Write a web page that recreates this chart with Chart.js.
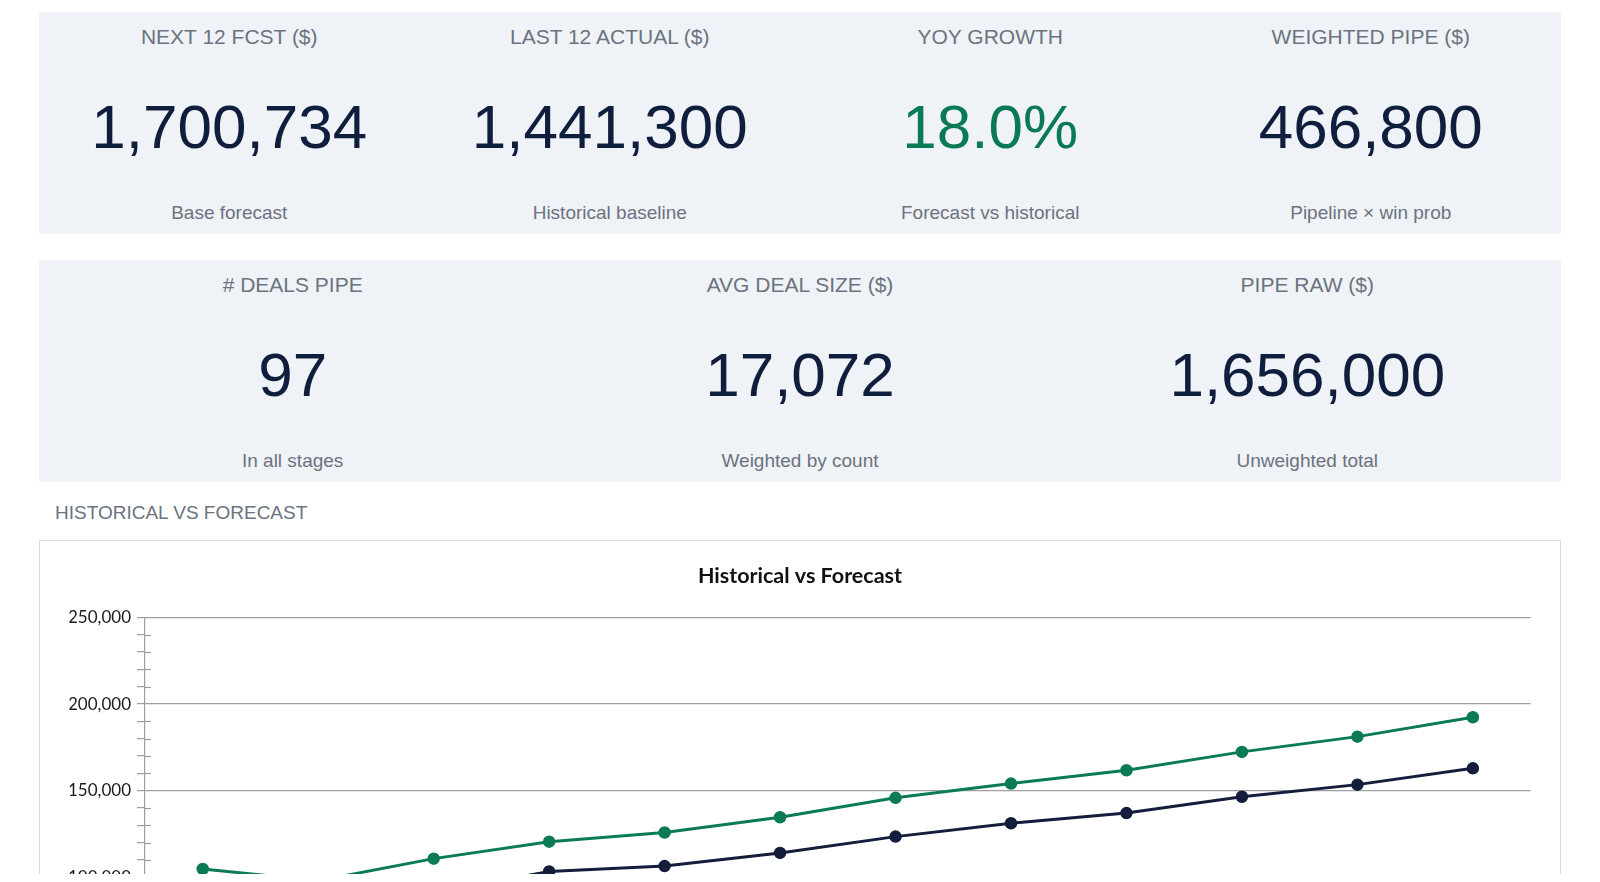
<!DOCTYPE html>
<html>
<head>
<meta charset="utf-8">
<title>Historical vs Forecast</title>
<script src="https://cdn.jsdelivr.net/npm/chart.js@4.4.1/dist/chart.umd.min.js"></script>
<style>
  html, body { margin: 0; background: #fff; }
  body { font-family: "Liberation Sans", Arial, sans-serif; }
  #page { position: relative; width: 1600px; height: 874px; overflow: hidden; }
  .row { position: absolute; left: 39px; width: 1522px; height: 222px; background: #eff2f6; display: flex; }
  .card { flex: 1; position: relative; text-align: center; }
  .lbl, .val, .sub { position: absolute; left: 0; right: 0; white-space: nowrap; }
  .lbl { top: 14.2px; font-size: 21px; line-height: 21px; color: #6b7280; }
  .val { top: 84.3px; font-size: 62px; line-height: 62px; color: #0f1e3c; }
  .val.good { color: #0a7a55; }
  .sub { top: 190.5px; font-size: 19px; line-height: 19px; color: #6b7280; }
  .section { position: absolute; left: 55px; top: 503px; font-size: 19px; line-height: 19px; color: #6b7280; }
  .panel { position: absolute; left: 39px; top: 540px; width: 1520px; height: 560px; border: 1px solid #dadada; background: #fff; }
  .chart-box { position: absolute; left: 0; top: 0; width: 1520px; height: 507px; }
</style>
</head>
<body>
<div id="page">
  <div class="row" style="top:12px">
    <div class="card"><div class="lbl">NEXT 12 FCST ($)</div><div class="val">1,700,734</div><div class="sub">Base forecast</div></div>
    <div class="card"><div class="lbl">LAST 12 ACTUAL ($)</div><div class="val">1,441,300</div><div class="sub">Historical baseline</div></div>
    <div class="card"><div class="lbl">YOY GROWTH</div><div class="val good">18.0%</div><div class="sub">Forecast vs historical</div></div>
    <div class="card"><div class="lbl">WEIGHTED PIPE ($)</div><div class="val">466,800</div><div class="sub">Pipeline × win prob</div></div>
  </div>
  <div class="row" style="top:260px">
    <div class="card"><div class="lbl"># DEALS PIPE</div><div class="val">97</div><div class="sub">In all stages</div></div>
    <div class="card"><div class="lbl">AVG DEAL SIZE ($)</div><div class="val">17,072</div><div class="sub">Weighted by count</div></div>
    <div class="card"><div class="lbl">PIPE RAW ($)</div><div class="val">1,656,000</div><div class="sub">Unweighted total</div></div>
  </div>
  <div class="section">HISTORICAL VS FORECAST</div>
  <div class="panel">
    <div class="chart-box"><canvas id="fcstChart"></canvas></div>
  </div>
</div>

<script>
// month index, 12 periods (historical = last 12, forecast = next 12)
const months = ['1', '2', '3', '4', '5', '6', '7', '8', '9', '10', '11', '12'];
const historical = [88700, 82900, 91000, 103400, 106500, 114100, 123500, 131200, 137100, 146500, 153500, 162900];
const forecast = [104800, 98000, 110800, 120600, 125900, 134700, 145900, 154100, 161800, 172400, 181200, 192400];

const yMin = 50000;
const yMax = 250000;
const minorStep = 10000;
const majorStep = 50000;

const navy = '#141d3b';
const green = '#0b7b56';
const axisGray = '#9e9e9e';

Chart.defaults.font.family = 'Lato, "Liberation Sans", sans-serif';
Chart.defaults.color = '#1a1a1a';

// small tick marks that cross the y axis line for the minor steps
const minorTicks = {
  id: 'minorTicks',
  afterDraw(chart) {
    const y = chart.scales.y;
    const left = chart.chartArea.left;
    const ctx = chart.ctx;
    ctx.save();
    ctx.strokeStyle = axisGray;
    ctx.lineWidth = 1.2;
    y.ticks.forEach(t => {
      if (t.value % majorStep === 0) return;
      const py = Math.round(y.getPixelForValue(t.value)) + 0.5;
      ctx.beginPath();
      ctx.moveTo(left, py);
      ctx.lineTo(left + 6, py);
      ctx.stroke();
    });
    ctx.restore();
  }
};

new Chart(document.getElementById('fcstChart'), {
  type: 'line',
  data: {
    labels: months,
    datasets: [
      {
        label: 'Historical',
        data: historical,
        borderColor: navy,
        backgroundColor: navy,
        pointBackgroundColor: navy,
        pointBorderColor: navy,
        borderWidth: 3,
        pointRadius: 5.5,
        pointBorderWidth: 1.5,
        tension: 0
      },
      {
        label: 'Forecast',
        data: forecast,
        borderColor: green,
        backgroundColor: green,
        pointBackgroundColor: green,
        pointBorderColor: green,
        borderWidth: 3,
        pointRadius: 5.5,
        pointBorderWidth: 1.5,
        tension: 0
      }
    ]
  },
  options: {
    responsive: true,
    maintainAspectRatio: false,
    animation: false,
    layout: { padding: { top: 10, right: 29.4, bottom: 10, left: 29.4 } },
    plugins: {
      title: {
        display: true,
        text: 'Historical vs Forecast',
        color: '#111',
        font: { size: 21.5, weight: 'bold' },
        padding: { top: 11.8, bottom: 28.8 }
      },
      legend: {
        position: 'bottom',
        labels: { font: { size: 14 } }
      },
      tooltip: { enabled: false }
    },
    scales: {
      x: {
        offset: true,
        grid: { display: false },
        border: { color: axisGray, width: 1.2 },
        ticks: { font: { size: 16 } },
        afterFit(scale) { scale.height = 40; }
      },
      y: {
        min: yMin,
        max: yMax,
        border: { display: true, color: axisGray, width: 1.2 },
        grid: {
          color: ctx => (ctx.tick && ctx.tick.value % majorStep === 0) ? axisGray : 'rgba(0,0,0,0)',
          lineWidth: 1.2,
          tickColor: axisGray,
          tickLength: 8,
          drawTicks: true
        },
        ticks: {
          count: (yMax - yMin) / minorStep + 1,
          autoSkip: false,
          padding: 6,
          font: { size: 17 },
          color: '#1a1a1a',
          callback: v => v % majorStep === 0 ? v.toLocaleString('en-US') : ''
        },
        afterFit(scale) { scale.width = 75.6; }
      }
    }
  },
  plugins: [minorTicks]
});
</script>
</body>
</html>
